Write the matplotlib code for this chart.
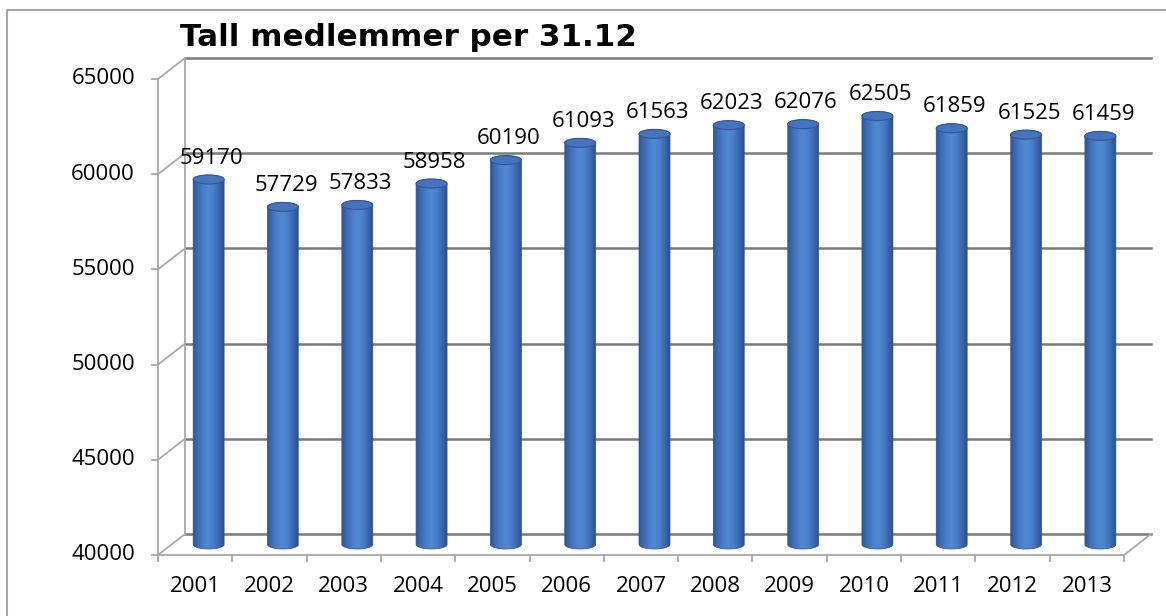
import numpy as np
import matplotlib.pyplot as plt
from matplotlib.patches import Ellipse, Polygon
from matplotlib.lines import Line2D
from matplotlib.colors import LinearSegmentedColormap

# data
years = ['2001', '2002', '2003', '2004', '2005', '2006', '2007',
         '2008', '2009', '2010', '2011', '2012', '2013']
members = [59170, 57729, 57833, 58958, 60190, 61093, 61563,
           62023, 62076, 62505, 61859, 61525, 61459]
y_ticks = [40000, 45000, 50000, 55000, 60000, 65000]
title = 'Tall medlemmer per 31.12'

W, H = 1166, 616
fig = plt.figure(figsize=(W / 100, H / 100), dpi=100)
fig.patch.set_facecolor('white')

# front plane of the 3D box, in pixels
left, right, top, bottom = 158, 1124, 79, 555
ax = fig.add_axes([left / W, 1 - bottom / H, (right - left) / W, (bottom - top) / H])
ax.axis('off')

n = len(years)
ymin, ymax = y_ticks[0], y_ticks[-1]
px_x = n / (right - left)
px_y = (ymax - ymin) / (bottom - top)
dx, dy = 27 * px_x, 21 * px_y   # depth offset

grid_c = '#7A7A7A'
wall_c = '#A8A8A8'
fs = 16

# back wall gridlines + left wall diagonals
for v in y_ticks:
    ax.plot([dx, n + dx], [v + dy, v + dy], color=grid_c, lw=1.8, clip_on=False, zorder=1)
    ax.plot([0, dx], [v, v + dy], color=wall_c, lw=1.3, clip_on=False, zorder=1)
    ax.plot([-6 * px_x, 0], [v, v], color=wall_c, lw=1.3, clip_on=False, zorder=1)
    ax.text(-23 * px_x, v, str(v), ha='right', va='center', fontsize=fs,
            family='Open Sans', color='black')
ax.plot([dx, dx], [ymin + dy, ymax + dy], color=wall_c, lw=1.3, clip_on=False, zorder=1)
ax.plot([0, 0], [ymin, ymax], color=wall_c, lw=1.3, clip_on=False, zorder=1)

# floor
ax.plot([0, n], [ymin, ymin], color=wall_c, lw=1.3, clip_on=False, zorder=1)
ax.plot([n, n + dx], [ymin, ymin + dy], color=wall_c, lw=1.3, clip_on=False, zorder=1)
for i in range(n + 1):
    ax.plot([i, i], [ymin, ymin - 6 * px_y], color=wall_c, lw=1.3, clip_on=False, zorder=1)

# cylinders
cmap = LinearSegmentedColormap.from_list('cyl', ['#30579A', '#3F6DB6', '#4B7FCA', '#5089D2',
                                                 '#4A7FC9', '#3C69B0', '#2D5190'])
grad = np.linspace(0, 1, 64)[None, :]
hw = 15.5 * px_x
hh = 4.5 * px_y
t = np.linspace(0, np.pi, 40)
for i, v in enumerate(members):
    cx = i + 0.5 + dx / 2
    yb = ymin + dy / 2
    yt = v + dy / 2
    xs = np.concatenate([cx - hw * np.cos(t), cx + hw * np.cos(t)])
    ys = np.concatenate([yb - hh * np.sin(t), yt + hh * np.sin(t)])
    body = Polygon(np.column_stack([xs, ys]), closed=True, facecolor='none',
                   edgecolor='#2D5190', lw=0.5, transform=ax.transData, zorder=4)
    ax.add_patch(body)
    im = ax.imshow(grad, extent=[cx - hw, cx + hw, yb - hh, yt + hh], aspect='auto',
                   cmap=cmap, interpolation='bicubic', zorder=3)
    im.set_clip_path(body)
    ax.add_patch(Ellipse((cx, yt), 2 * hw, 2 * hh, facecolor='#4574BD',
                         edgecolor='#30579A', lw=0.8, zorder=5))
    ax.text(cx + 3 * px_x, yt + 11 * px_y, str(v), ha='center', va='bottom',
            fontsize=fs, family='Open Sans', color='black', zorder=6)

for i, yr in enumerate(years):
    ax.text(i + 0.5, ymin - 32 * px_y, yr, ha='center', va='center', fontsize=fs,
            family='Open Sans', color='black')

ax.set_xlim(0, n)
ax.set_ylim(ymin, ymax)

# title and outer chart frame
fig.text(180 / W, 1 - 46 / H, title, ha='left', va='baseline', fontsize=22.3,
         fontweight='bold', family='DejaVu Sans')
fig.add_artist(Line2D([7 / W, 7 / W, 1], [0, 1 - 10 / H, 1 - 10 / H],
                      transform=fig.transFigure, color='#A6A6A6', lw=1.5))

fig.savefig('out.png', dpi=100)
